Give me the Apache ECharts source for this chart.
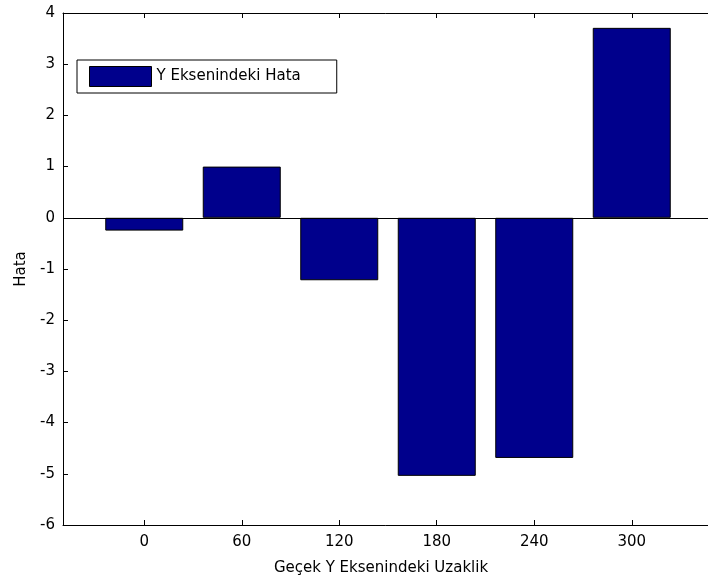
<!DOCTYPE html>
<html>
<head>
<meta charset="utf-8">
<script src="https://cdn.jsdelivr.net/npm/echarts@6/dist/echarts.min.js"></script>
<style>
html, body { margin: 0; padding: 0; background: #fff; }
#chart { width: 708px; height: 583px; }
</style>
</head>
<body>
<div id="chart"></div>
<script>
// mesafe değerleri ve Y eksenindeki hata
const distances = [0, 60, 120, 180, 240, 300]
const errors = [-0.25, 1.0, -1.22, -5.04, -4.69, 3.71]
const xTicks = [0, 60, 120, 180, 240, 300]
const yTicks = [-6, -5, -4, -3, -2, -1, 0, 1, 2, 3, 4]

const font = 'DejaVu Sans, sans-serif'
const mychart = echarts.init(document.getElementById('chart'))

const boxAxis = {
  axisLine: { show: true, onZero: false, lineStyle: { color: '#000', width: 1 } },
  axisTick: { show: true, inside: true, length: 5, lineStyle: { color: '#000' } },
  splitLine: { show: false }
}

const option = {
  animation: false,
  grid: {
    left: 63,
    top: 13,
    right: -5,
    bottom: 58,
    containLabel: false,
    outerBoundsMode: 'none'
  },
  legend: {
    left: 77,
    top: 60,
    orient: 'vertical',
    icon: 'rect',
    itemWidth: 62,
    itemHeight: 20,
    itemGap: 0,
    padding: [6, 36, 6, 12],
    borderColor: '#000',
    borderWidth: 1,
    backgroundColor: '#fff',
    textStyle: { color: '#000', fontFamily: font, fontSize: 15 },
    itemStyle: { borderColor: '#000', borderWidth: 1 },
    data: ['Y Eksenindeki Hata']
  },
  xAxis: [{
    type: 'value',
    position: 'bottom',
    min: -50,
    max: 350,
    name: 'Geçek Y Eksenindeki Uzaklik',
    nameLocation: 'middle',
    nameGap: 36,
    nameTextStyle: { color: '#000', fontFamily: font, fontSize: 15, padding: [0, 14, 0, 0] },
    axisLabel: { customValues: xTicks, color: '#000', fontFamily: font, fontSize: 15, margin: 10 },
    ...boxAxis,
    axisTick: { ...boxAxis.axisTick, customValues: xTicks }
  }, {
    type: 'value',
    position: 'top',
    min: -50,
    max: 350,
    axisLabel: { show: false },
    ...boxAxis,
    axisTick: { ...boxAxis.axisTick, customValues: xTicks }
  }],
  yAxis: [{
    type: 'value',
    position: 'left',
    min: -6,
    max: 4,
    interval: 1,
    name: 'Hata',
    nameLocation: 'middle',
    nameGap: 34,
    nameTextStyle: { color: '#000', fontFamily: font, fontSize: 15 },
    axisLabel: {
      color: '#000',
      fontFamily: font,
      fontSize: 15,
      margin: 8,
      formatter: v => (yTicks.includes(v) ? String(v) : '')
    },
    ...boxAxis
  }, {
    type: 'value',
    position: 'right',
    min: -6,
    max: 4,
    interval: 1,
    axisLabel: { show: false },
    ...boxAxis
  }],
  series: [{
    name: 'Y Eksenindeki Hata',
    type: 'bar',
    xAxisIndex: 0,
    yAxisIndex: 0,
    barWidth: 78,
    itemStyle: { color: '#00008c', borderColor: '#000', borderWidth: 1 },
    data: distances.map((d, i) => [d, errors[i]]),
    markLine: {
      silent: true,
      symbol: 'none',
      label: { show: false },
      lineStyle: { color: '#000', width: 1, type: 'solid' },
      data: [{ yAxis: 0 }]
    }
  }]
}
mychart.setOption(option)
</script>
</body>
</html>
